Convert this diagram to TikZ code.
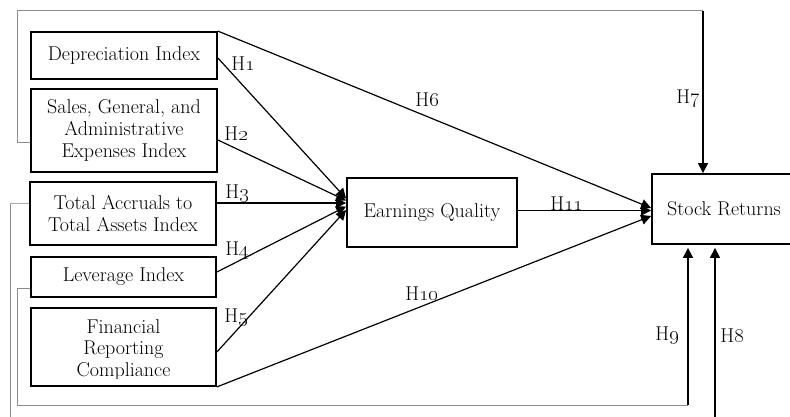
\documentclass[tikz,border=0pt]{standalone}
\usetikzlibrary{arrows.meta,calc}
\begin{document}
\begin{tikzpicture}[x=1pt,y=-1pt,
  txt/.style={font=\fontsize{20}{21.7}\selectfont},
  box/.style={draw=black, line width=1.8pt, rectangle, inner sep=0pt, align=center, txt},
  conn/.style={draw=black, line width=1.2pt, -{Triangle[length=10pt,width=10pt]}},
  loopline/.style={draw=black!45, line width=1pt},
  loopblue/.style={draw={rgb,255:red,160;green,172;blue,200}, line width=1pt},
  lab/.style={txt, inner sep=0pt}]
\useasboundingbox (0,0) rectangle (790,417);
\fill[white] (0,0) rectangle (790,417);

% boxes
\node[box, minimum width=186pt, minimum height=47pt] (dep) at (124,55.5) {Depreciation Index};
\node[box, minimum width=186pt, minimum height=83pt] (sga) at (124,130.5) {Sales, General, and\\Administrative\\Expenses Index};
\node[box, minimum width=186pt, minimum height=63pt] (tac) at (123,213.5) {Total Accruals to\\Total Assets Index};
\node[box, minimum width=185pt, minimum height=40pt] (lev) at (123.5,277) {Leverage Index};
\node[box, minimum width=185pt, minimum height=78pt] (frc) at (123.5,347) {};
\begin{scope}
  \clip (frc.north west) rectangle ([yshift=8pt]frc.south east);
  \node[txt, align=center, inner sep=0pt] (frctext) at ([yshift=-3pt]frc.center) {Financial\\Reporting\\Compliance};
\end{scope}
\node[box, minimum width=170pt, minimum height=69pt] (eq) at (432,212.5) {Earnings Quality};
\node[box, minimum width=144pt, minimum height=70pt] (sr) at (724,209) {Stock Returns};

% arrows to Earnings Quality
\draw[conn] ([yshift=-2.5pt]dep.east) -- ([yshift=14pt]eq.west);
\draw[conn] ([yshift=-9.5pt]sga.east) -- ([yshift=12pt]eq.west);
\draw[conn] ([yshift=10.5pt]tac.east) -- ([yshift=9.5pt]eq.west);
\draw[conn] ([yshift=5pt]lev.east) -- ([yshift=6pt]eq.west);
\draw[conn] ([yshift=-5pt]frc.east) -- ([yshift=2.5pt]eq.west);

% arrows to Stock Returns
\draw[conn] (dep.north east) -- ([yshift=1pt]sr.west);
\draw[conn] ([yshift=2pt]eq.east) -- ([yshift=2pt]eq.east -| sr.west);
\draw[conn] (frc.south east) -- ([yshift=-7pt]sr.west);

% H7 loop
\coordinate (c7) at (703,11);
\draw[loopline] ([yshift=-12.5pt]sga.west) -- ++(-13,0) |- (c7);
\draw[conn] (c7) -- (c7 |- sr.north);

% H8 loop
\coordinate (c8) at (715,430);
\coordinate (c8a) at (10,203);
\draw[loopline] (c8a) |- (c8);
\draw[loopblue] ([yshift=10.5pt]tac.west) -- (c8a);
\draw[conn] (c8) -- ($(c8 |- sr.south)+(0,3)$);

% H9 loop
\coordinate (c9) at (688,405);
\draw[loopline] ([yshift=-11pt]lev.west) -- ++(-13,0) |- (c9);
\draw[conn] (c9) -- ($(c9 |- sr.south)+(0,3)$);

% labels
\node[lab] (h1) at (243,64) {H\oldstylenums{1}};
\node[lab] (h2) at (236,134) {H\oldstylenums{2}};
\node[lab] (h3) at (237,194) {H\oldstylenums{3}};
\node[lab] (h4) at (237,251) {H\oldstylenums{4}};
\node[lab] (h5) at (236,318) {H\oldstylenums{5}};
\node[lab] (h6) at (427,100) {H\oldstylenums{6}};
\node[lab] (h7) at (688,99) {H\oldstylenums{7}};
\node[lab] (h8) at (732,336) {H\oldstylenums{8}};
\node[lab] (h9) at (667,336) {H\oldstylenums{9}};
\node[lab] (h10) at (422,294) {H\oldstylenums{10}};
\node[lab] (h11) at (567,204) {H\oldstylenums{11}};
\end{tikzpicture}
\end{document}
